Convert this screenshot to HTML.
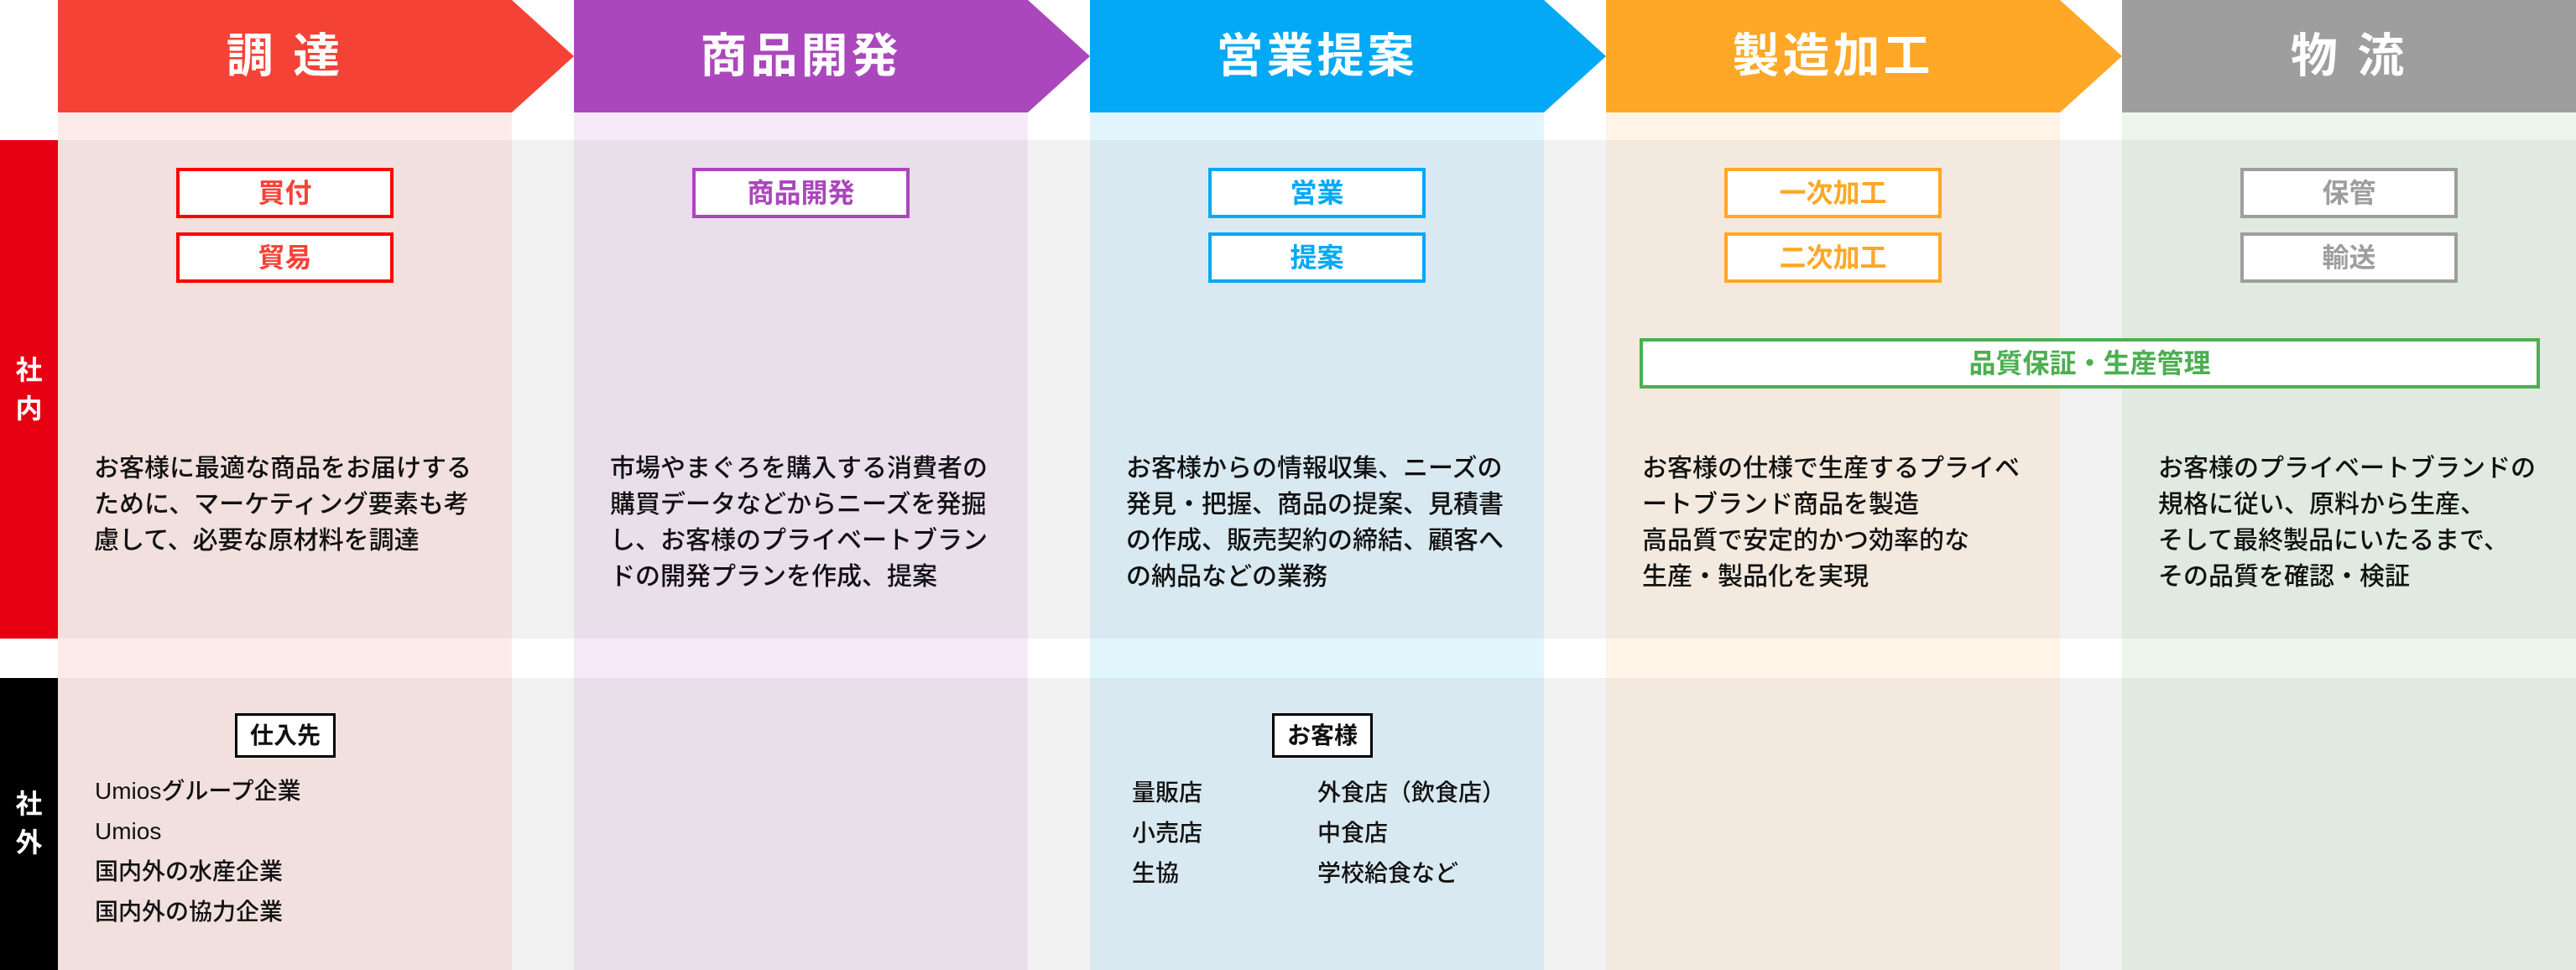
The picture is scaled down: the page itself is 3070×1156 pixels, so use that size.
<!DOCTYPE html>
<html><head><meta charset="utf-8"><style>
*{margin:0;padding:0;box-sizing:border-box}
body{width:3070px;height:1156px;position:relative;background:#fff;overflow:hidden;font-family:"Liberation Sans","Noto Sans CJK JP",sans-serif;color:#111}
.a{position:absolute}
.hd{position:absolute;top:0;height:134px;color:#fff;font-weight:bold;font-size:56px;line-height:134px;letter-spacing:4px}
.hd span{position:absolute;left:0;width:541px;text-align:center;top:0}
.box{position:absolute;width:259px;height:60px;background:#fff;border:4px solid;font-weight:bold;font-size:32px;line-height:52px;text-align:center}
.desc{position:absolute;top:537px;font-size:30px;line-height:43px;white-space:nowrap;font-weight:500}
.lst{position:absolute;font-size:28px;line-height:48px;white-space:nowrap;font-weight:500}
.tag{position:absolute;top:850px;height:53px;background:#fff;border:3px solid #000;font-weight:bold;font-size:28px;line-height:47px;text-align:center}
.lab{position:absolute;left:0;width:69px;color:#fff;font-weight:bold;font-size:32px;line-height:46px;text-align:center}
</style></head><body>
<div class="a" style="left:69px;top:167px;width:3001px;height:594px;background:#f1f1f1"></div>
<div class="a" style="left:69px;top:808px;width:3001px;height:348px;background:#f1f1f1"></div>

<div class="a" style="left:69px;top:134px;width:541px;height:33px;background:#fdebe9"></div>
<div class="a" style="left:69px;top:167px;width:541px;height:594px;background:#f1e0de"></div>
<div class="a" style="left:69px;top:761px;width:541px;height:47px;background:#fdebe9"></div>
<div class="a" style="left:69px;top:808px;width:541px;height:348px;background:#f1e0de"></div>

<div class="a" style="left:684px;top:134px;width:541px;height:33px;background:#f5e9f7"></div>
<div class="a" style="left:684px;top:167px;width:541px;height:594px;background:#e8dfeb"></div>
<div class="a" style="left:684px;top:761px;width:541px;height:47px;background:#f5e9f7"></div>
<div class="a" style="left:684px;top:808px;width:541px;height:348px;background:#e8dfeb"></div>

<div class="a" style="left:1299px;top:134px;width:541px;height:33px;background:#e1f5fd"></div>
<div class="a" style="left:1299px;top:167px;width:541px;height:594px;background:#d9e9f1"></div>
<div class="a" style="left:1299px;top:761px;width:541px;height:47px;background:#e1f5fd"></div>
<div class="a" style="left:1299px;top:808px;width:541px;height:348px;background:#d9e9f1"></div>

<div class="a" style="left:1914px;top:134px;width:541px;height:33px;background:#fff4e6"></div>
<div class="a" style="left:1914px;top:167px;width:541px;height:594px;background:#f3e9de"></div>
<div class="a" style="left:1914px;top:761px;width:541px;height:47px;background:#fff4e6"></div>
<div class="a" style="left:1914px;top:808px;width:541px;height:348px;background:#f3e9de"></div>

<div class="a" style="left:2529px;top:134px;width:541px;height:33px;background:#edf6ec"></div>
<div class="a" style="left:2529px;top:167px;width:541px;height:594px;background:#e0eae1"></div>
<div class="a" style="left:2529px;top:761px;width:541px;height:47px;background:#edf6ec"></div>
<div class="a" style="left:2529px;top:808px;width:541px;height:348px;background:#e0eae1"></div>

<div class="hd" style="left:69px;width:615px;background:#f44336;clip-path:polygon(0 0,541px 0,615px 67px,541px 134px,0 134px)"><span>調 達</span></div>
<div class="hd" style="left:684px;width:615px;background:#ab47bc;clip-path:polygon(0 0,541px 0,615px 67px,541px 134px,0 134px)"><span>商品開発</span></div>
<div class="hd" style="left:1299px;width:615px;background:#03a9f4;clip-path:polygon(0 0,541px 0,615px 67px,541px 134px,0 134px)"><span>営業提案</span></div>
<div class="hd" style="left:1914px;width:615px;background:#ffa726;clip-path:polygon(0 0,541px 0,615px 67px,541px 134px,0 134px)"><span>製造加工</span></div>
<div class="hd" style="left:2529px;width:541px;background:#9e9e9e"><span>物 流</span></div>

<div class="lab" style="top:167px;height:594px;background:#e60012;padding-top:251px">社<br>内</div>
<div class="lab" style="top:808px;height:348px;background:#000;padding-top:127px">社<br>外</div>

<div class="box" style="left:210px;top:200px;border-color:#ff0000;color:#f44336">買付</div>
<div class="box" style="left:210px;top:277px;border-color:#ff0000;color:#f44336">貿易</div>
<div class="box" style="left:825px;top:200px;border-color:#ab47bc;color:#ab47bc">商品開発</div>
<div class="box" style="left:1440px;top:200px;border-color:#03a9f4;color:#03a9f4">営業</div>
<div class="box" style="left:1440px;top:277px;border-color:#03a9f4;color:#03a9f4">提案</div>
<div class="box" style="left:2055px;top:200px;border-color:#ffa726;color:#ffa726">一次加工</div>
<div class="box" style="left:2055px;top:277px;border-color:#ffa726;color:#ffa726">二次加工</div>
<div class="box" style="left:2670px;top:200px;border-color:#9e9e9e;color:#9e9e9e">保管</div>
<div class="box" style="left:2670px;top:277px;border-color:#9e9e9e;color:#9e9e9e">輸送</div>
<div class="box" style="left:1954px;top:403px;width:1073px;height:60px;border-color:#4caf50;color:#4caf50">品質保証・生産管理</div>

<div class="desc" style="left:112px">お客様に最適な商品をお届けする<br>ために、マーケティング要素も考<br>慮して、必要な原材料を調達</div>
<div class="desc" style="left:727px">市場やまぐろを購入する消費者の<br>購買データなどからニーズを発掘<br>し、お客様のプライベートブラン<br>ドの開発プランを作成、提案</div>
<div class="desc" style="left:1342px">お客様からの情報収集、ニーズの<br>発見・把握、商品の提案、見積書<br>の作成、販売契約の締結、顧客へ<br>の納品などの業務</div>
<div class="desc" style="left:1957px">お客様の仕様で生産するプライベ<br>ートブランド商品を製造<br>高品質で安定的かつ効率的な<br>生産・製品化を実現</div>
<div class="desc" style="left:2572px">お客様のプライベートブランドの<br>規格に従い、原料から生産、<br>そして最終製品にいたるまで、<br>その品質を確認・検証</div>

<div class="tag" style="left:280px;width:120px">仕入先</div>
<div class="lst" style="left:113px;top:919px">Umiosグループ企業<br>Umios<br>国内外の水産企業<br>国内外の協力企業</div>
<div class="tag" style="left:1516px;width:120px">お客様</div>
<div class="lst" style="left:1349px;top:921px">量販店<br>小売店<br>生協</div>
<div class="lst" style="left:1570px;top:921px">外食店（飲食店）<br>中食店<br>学校給食など</div>
</body></html>
